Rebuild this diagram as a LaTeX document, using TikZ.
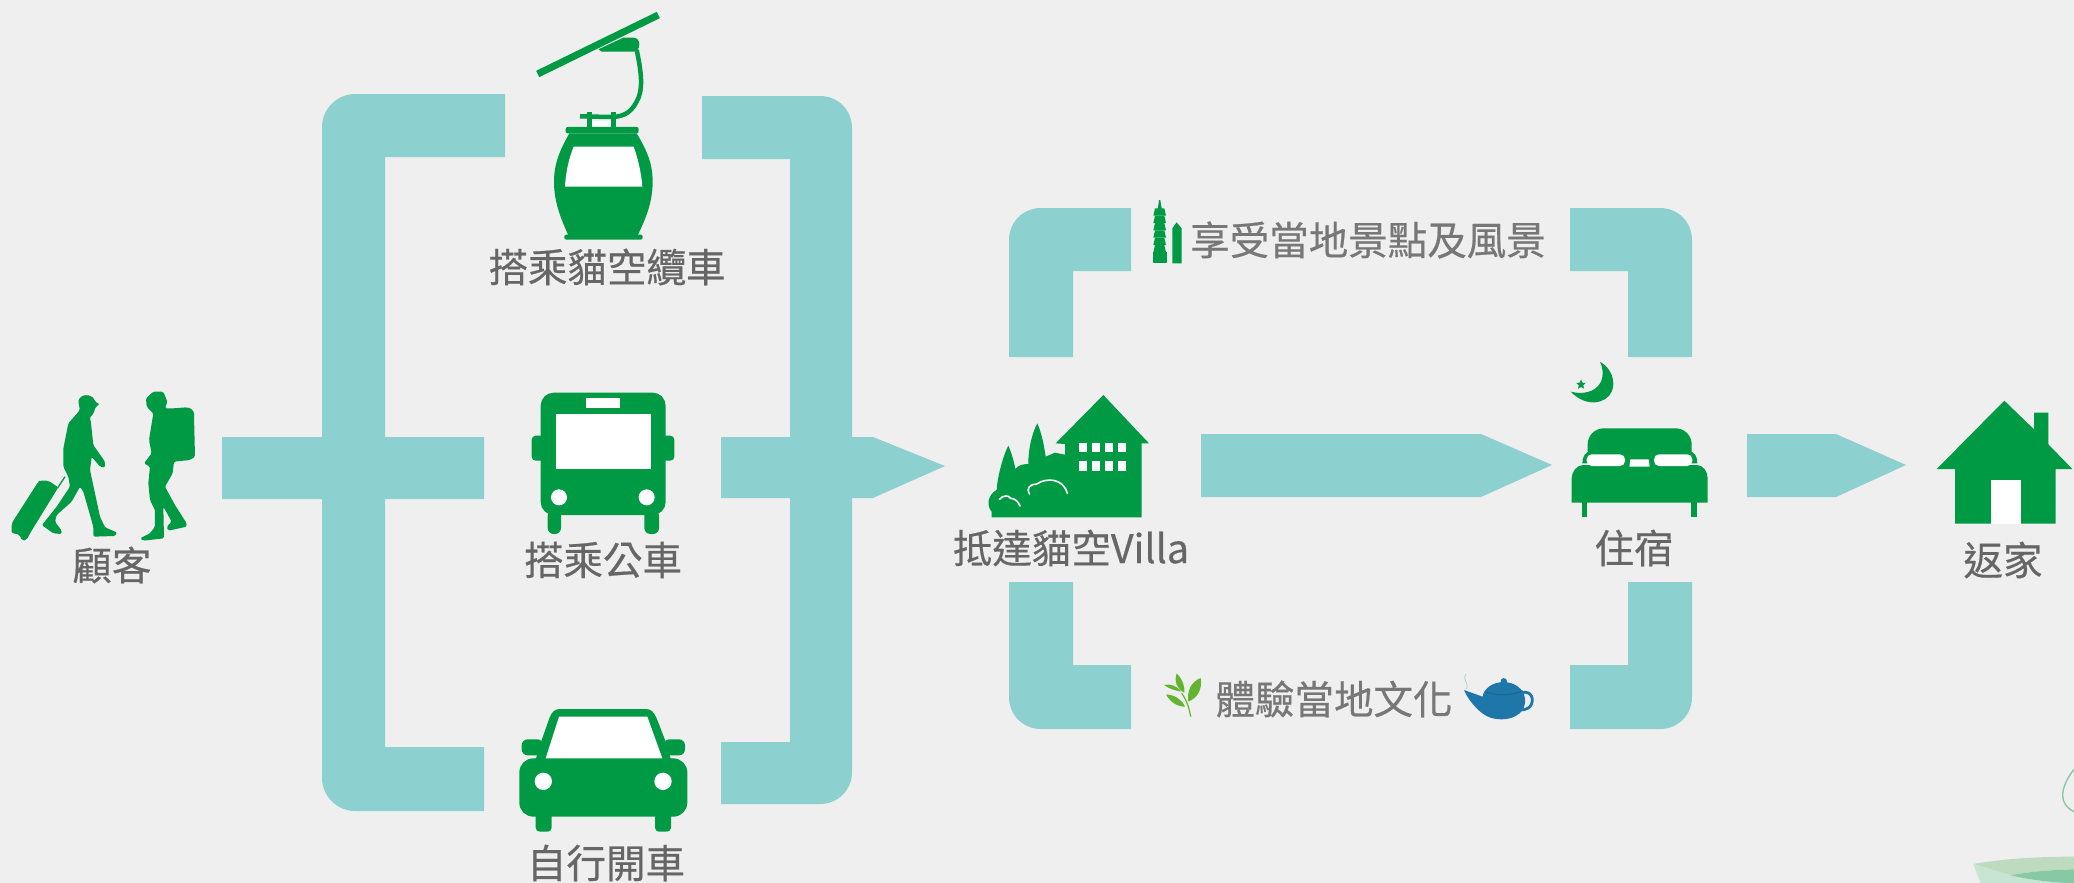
\documentclass[tikz,border=0pt]{standalone}
\usepackage{fontspec}
\setmainfont{Noto Sans CJK TC}[FakeBold=0.5]
\definecolor{bgc}{HTML}{EFEFEF}
\definecolor{flow}{HTML}{8DD0D0}
\definecolor{ico}{HTML}{009A44}
\definecolor{lab}{HTML}{666666}
\definecolor{labl}{HTML}{777777}
\definecolor{leaf}{HTML}{62B530}
\definecolor{pot}{HTML}{1F76A8}
\definecolor{potd}{HTML}{185F88}
\definecolor{steam}{HTML}{A8D8C8}
\definecolor{decoa}{HTML}{BEDABF}
\definecolor{decob}{HTML}{C6E6D3}
\definecolor{decoc}{HTML}{87C9A5}
\tikzset{
  flowfill/.style={fill=flow},
  icofill/.style={fill=ico},
  hole/.style={fill=white},
  lbl/.style={text=lab,inner sep=0pt,font=\fontsize{39.5}{42}\selectfont},
  lbllight/.style={text=labl,inner sep=0pt,font=\fontsize{39.5}{42}\selectfont},
  zoomed/.style={shift={#1},scale=1/3}
}
\begin{document}
\begin{tikzpicture}[x=1pt,y=-1pt]
\useasboundingbox (0,0) rectangle (2074,883);
\fill[bgc] (0,0) rectangle (2074,883);
\clip (0,0) rectangle (2074,883);

% left bracket
\fill[flowfill] (505,94) -- (355,94) .. controls (337,94) and (322,109) .. (322,127)
  -- (322,437) -- (222,437) -- (222,499) -- (322,499)
  -- (322,778) .. controls (322,796) and (337,811) .. (355,811)
  -- (484,811) -- (484,747) -- (385,747) -- (385,499) -- (484,499) -- (484,437) -- (385,437) -- (385,157) -- (505,157) -- cycle;
% right bracket with arrow
\fill[flowfill] (702,96) -- (820,96) .. controls (838,96) and (852,110) .. (852,128)
  -- (852,437) -- (873,437) -- (945,466) -- (873,498) -- (852,498)
  -- (852,772) .. controls (852,790) and (838,804) .. (820,804)
  -- (721,804) -- (721,742) -- (790,742) -- (790,498) -- (721,498) -- (721,437) -- (790,437) -- (790,159) -- (702,159) -- cycle;
% upper loop
\fill[flowfill] (1009,357) -- (1009,240) .. controls (1009,222) and (1023,208) .. (1041,208) -- (1131,208) -- (1131,271) -- (1073,271) -- (1073,357) -- cycle;
\fill[flowfill] (1692,357) -- (1692,240) .. controls (1692,222) and (1678,208) .. (1660,208) -- (1570,208) -- (1570,271) -- (1628,271) -- (1628,357) -- cycle;
% lower loop
\fill[flowfill] (1009,582) -- (1009,697) .. controls (1009,715) and (1023,729) .. (1041,729) -- (1131,729) -- (1131,665) -- (1073,665) -- (1073,582) -- cycle;
\fill[flowfill] (1692,582) -- (1692,697) .. controls (1692,715) and (1678,729) .. (1660,729) -- (1570,729) -- (1570,665) -- (1628,665) -- (1628,582) -- cycle;
% arrows
\fill[flowfill] (1201,434) -- (1481,434) -- (1552,465) -- (1481,497) -- (1201,497) -- cycle;
\fill[flowfill] (1747,434) -- (1836,434) -- (1906,465) -- (1836,497) -- (1747,497) -- cycle;

% travellers
\begin{scope}[zoomed={(0,370)}]
\fill[icofill,rounded corners=1.5pt] (235,95) .. controls (238,82) and (250,75) .. (262,76) .. controls (275,77) and (283,85) .. (285,95) -- (300,103) -- (287,110) -- (281,130) -- (268,145) -- (272,150) -- (280,225) -- (315,275) -- (315,293) -- (300,290) -- (275,260) -- (270,300) -- (300,440) -- (315,472) -- (352,488) -- (345,498) -- (280,500) -- (280,470) -- (250,365) -- (240,350) -- (215,395) -- (170,435) -- (165,455) -- (185,482) -- (185,492) -- (160,490) -- (125,465) -- (130,460) -- (170,410) -- (210,350) -- (205,320) -- (190,290) -- (190,235) -- (205,160) -- (240,120) -- cycle;
\fill[icofill,rounded corners=2pt] (120,332) -- (145,332) -- (175,352) -- (90,490) -- (80,510) -- (65,512) -- (60,495) -- (45,490) -- (35,490) -- (35,460) -- (115,335) -- cycle;
\draw[ico,line width=1.3pt] (172,355) -- (195,320);
\fill[icofill,rounded corners=1.5pt] (438,85) -- (460,65) -- (490,65) -- (502,95) -- (495,115) -- (520,115) -- (560,112) .. controls (575,115) and (582,125) .. (582,135) -- (585,260) -- (570,270) -- (522,275) -- (518,310) -- (495,350) -- (525,405) -- (560,460) -- (560,470) -- (505,482) -- (500,470) -- (515,455) -- (490,410) -- (492,505) -- (430,512) -- (420,505) -- (450,490) -- (465,470) -- (465,420) -- (450,390) -- (445,340) -- (450,290) -- (432,280) -- (455,250) -- (447,210) -- (460,130) -- (440,110) -- cycle;
\end{scope}

% gondola
\begin{scope}[zoomed={(480,0)}]
\draw[ico,line width=7pt] (173,222) -- (535,45);
\fill[icofill] (355,148) -- (430,113) -- (460,113) .. controls (472,113) and (478,122) .. (478,132) .. controls (478,148) and (470,155) .. (460,155) -- (365,155) -- cycle;
\draw[ico,line width=4.5pt] (470,150) .. controls (485,220) and (490,270) .. (470,305) .. controls (450,345) and (420,351) .. (390,351) -- (300,349);
\draw[ico,line width=4.5pt] (328,335) -- (328,385) (400,335) -- (400,385);
\fill[hole] (336,362) rectangle (392,382);
\fill[icofill,rounded corners=2pt] (257,381) rectangle (476,400);
\fill[icofill] (268,400) .. controls (240,450) and (222,490) .. (222,545) .. controls (222,610) and (245,660) .. (265,706) -- (473,706) .. controls (495,660) and (518,610) .. (518,545) .. controls (518,490) and (500,450) .. (470,400) -- cycle;
\fill[icofill,rounded corners=2pt] (253,704) rectangle (488,719);
\fill[hole] (281,440) -- (461,440) .. controls (475,480) and (484,520) .. (487,560) -- (255,560) .. controls (257,520) and (265,480) .. (281,440) -- cycle;
\end{scope}

% bus
\begin{scope}[zoomed={(500,370)}]
\fill[icofill,rounded corners=4pt] (95,197) rectangle (523,272);
\fill[icofill,rounded corners=13pt] (122,68) rectangle (497,435);
\fill[icofill,rounded corners=6pt] (143,420) rectangle (183,492);
\fill[icofill,rounded corners=6pt] (433,420) rectangle (477,492);
\fill[hole] (257,85) rectangle (360,115);
\fill[hole] (167,132) rectangle (453,296);
\fill[hole] (177,382) circle[radius=24];
\fill[hole] (440,382) circle[radius=24];
\end{scope}

% car
\begin{scope}[zoomed={(500,690)}]
\fill[icofill,rounded corners=6pt] (65,148) rectangle (130,196);
\fill[icofill,rounded corners=6pt] (490,148) rectangle (555,196);
\fill[icofill,rounded corners=4pt] (107,360) rectangle (155,425);
\fill[icofill,rounded corners=4pt] (465,360) rectangle (513,425);
\fill[icofill] (105,215) -- (125,150) -- (148,85) .. controls (155,65) and (165,57) .. (180,57) -- (437,57) .. controls (452,57) and (462,65) .. (470,85) -- (495,150) -- (515,215) -- cycle;
\fill[icofill,rounded corners=14pt] (58,205) rectangle (562,380);
\fill[hole] (177,80) -- (442,80) -- (487,205) -- (137,205) -- cycle;
\fill[hole] (130,274) circle[radius=26];
\fill[hole] (489,274) circle[radius=26];
\end{scope}

% villa
\begin{scope}[zoomed={(940,380)}]
\fill[icofill] (155,412) -- (155,395) .. controls (145,385) and (142,365) .. (150,350) .. controls (155,340) and (165,332) .. (170,330) .. controls (172,290) and (190,225) .. (205,197) .. controls (215,220) and (222,245) .. (226,267) .. controls (235,255) and (250,252) .. (265,252) .. controls (264,215) and (275,160) .. (292,130) .. controls (305,160) and (312,195) .. (317,230) -- (345,218) -- (375,224) -- (375,192) -- (347,190) -- (490,45) -- (627,190) -- (605,190) -- (605,412) -- cycle;
\foreach \wx in {417,455,495,533}{
  \fill[hole] (\wx,188) rectangle ++(25,29);
  \fill[hole] (\wx,243) rectangle ++(25,29);
}
\draw[white,line width=1.6pt,line cap=round] (268,342) .. controls (258,325) and (270,312) .. (290,312) .. controls (320,292) and (370,295) .. (382,340);
\draw[white,line width=1.6pt,line cap=round] (178,358) .. controls (190,345) and (205,345) .. (212,355) .. controls (225,355) and (235,365) .. (240,378);
\end{scope}

% tower
\begin{scope}[zoomed={(1130,190)}]
\fill[icofill] (87,30) -- (91,30) -- (93,45) -- (96,60) -- (82,60) -- (85,45) -- cycle;
\foreach \sy in {55,77,99,121,143,165}{
  \fill[icofill] (75,\sy) -- (103,\sy) -- (108,\sy+22) -- (70,\sy+22) -- cycle;
}
\fill[icofill] (68,187) -- (110,187) -- (110,220) -- (68,220) -- cycle;
\fill[icofill] (127,115) -- (140,97) -- (155,115) -- (155,220) -- (127,220) -- cycle;
\end{scope}

% leaves and teapot
\begin{scope}[zoomed={(1140,650)}]
\draw[leaf,line width=1.2pt] (152,200) .. controls (148,175) and (140,150) .. (125,130);
\fill[leaf] (145,155) .. controls (140,120) and (155,95) .. (182,84) .. controls (188,120) and (170,145) .. (145,155) -- cycle;
\fill[leaf] (133,128) .. controls (110,115) and (102,95) .. (110,70) .. controls (125,85) and (135,105) .. (133,128) -- cycle;
\fill[leaf] (125,125) .. controls (105,122) and (85,115) .. (72,105) .. controls (90,100) and (112,108) .. (125,125) -- cycle;
\fill[leaf] (135,170) .. controls (110,170) and (90,155) .. (78,133) .. controls (105,135) and (125,148) .. (135,170) -- cycle;
\draw[steam,line width=.8pt] (978,72) .. controls (965,90) and (990,100) .. (978,118);
\draw[pot,line width=2.8pt] (1145,128) .. controls (1175,120) and (1185,150) .. (1170,170) .. controls (1160,180) and (1145,180) .. (1135,180);
\fill[pot] (972,120) -- (1028,140) .. controls (1030,115) and (1060,98) .. (1082,97) .. controls (1078,85) and (1100,75) .. (1101,97) .. controls (1125,100) and (1150,115) .. (1155,145) .. controls (1160,185) and (1125,208) .. (1085,208) .. controls (1050,208) and (1030,195) .. (1010,175) .. controls (995,160) and (980,140) .. (972,120) -- cycle;
\draw[potd,line width=.7pt] (1035,125) .. controls (1065,138) and (1115,138) .. (1148,122);
\end{scope}

% bed and moon
\begin{scope}[zoomed={(1550,350)}]
\fill[icofill] (150,35) .. controls (185,55) and (198,95) .. (185,125) .. controls (170,160) and (110,175) .. (62,125) .. controls (100,135) and (135,125) .. (150,100) .. controls (162,80) and (160,55) .. (150,35) -- cycle;
\fill[icofill] (93,88) -- (97,98) -- (107,99) -- (100,106) -- (102,116) -- (93,111) -- (84,116) -- (86,106) -- (79,99) -- (89,98) -- cycle;
\fill[icofill] (97,455) rectangle (112,501);
\fill[icofill] (424,455) rectangle (440,501);
\fill[icofill,rounded corners=16pt] (113,235) rectangle (425,360);
\fill[icofill] (97,340) .. controls (97,320) and (105,305) .. (125,303) -- (415,303) .. controls (435,305) and (442,320) .. (442,340) -- cycle;
\fill[icofill] (65,458) -- (65,385) .. controls (65,365) and (80,345) .. (100,345) -- (440,345) .. controls (460,345) and (473,365) .. (473,385) -- (473,458) -- cycle;
\fill[hole,rounded corners=5pt] (110,313) rectangle (225,348);
\fill[hole,rounded corners=5pt] (312,313) rectangle (427,348);
\fill[hole] (241,328) -- (296,328) -- (299,350) -- (238,350) -- cycle;
\end{scope}

% home
\begin{scope}[zoomed={(1900,380)}]
\fill[icofill] (313,62) -- (402,148) -- (402,98) -- (445,98) -- (445,193) -- (517,267) -- (467,267) -- (467,431) -- (165,431) -- (165,267) -- (110,267) -- cycle;
\fill[hole] (272,300) rectangle (362,431);
\end{scope}

% corner decoration
\begin{scope}[zoomed={(1940,740)}]
\draw[decoc,line width=1.4pt] (402,88) .. controls (380,115) and (368,145) .. (368,165) .. controls (368,190) and (385,208) .. (402,215);
\fill[decoa] (100,372) .. controls (200,355) and (300,350) .. (402,350) -- (402,388) .. controls (330,390) and (265,395) .. (212,406) -- cycle;
\fill[decob] (100,372) -- (212,406) .. controls (270,420) and (340,428) .. (402,430) -- (402,440) -- (125,440) -- cycle;
\fill[decoc] (212,406) .. controls (265,395) and (330,390) .. (402,388) -- (402,430) .. controls (340,428) and (270,420) .. (212,406) -- cycle;
\end{scope}

% labels
\node[lbl] (customer) at (112,565) {顧客};
\node[lbl] (gondola) at (607,267) {搭乘貓空纜車};
\node[lbl] (bus) at (603,560) {搭乘公車};
\node[lbl] (car) at (606,863) {自行開車};
\node[lbl] (villa) at (1071,548) {抵達貓空Villa};
\node[lbllight] (sights) at (1368,240) {享受當地景點及風景};
\node[lbllight] (culture) at (1334,699) {體驗當地文化};
\node[lbl] (stay) at (1634,548) {住宿};
\node[lbl] (home) at (2003,560) {返家};
\end{tikzpicture}
\end{document}
